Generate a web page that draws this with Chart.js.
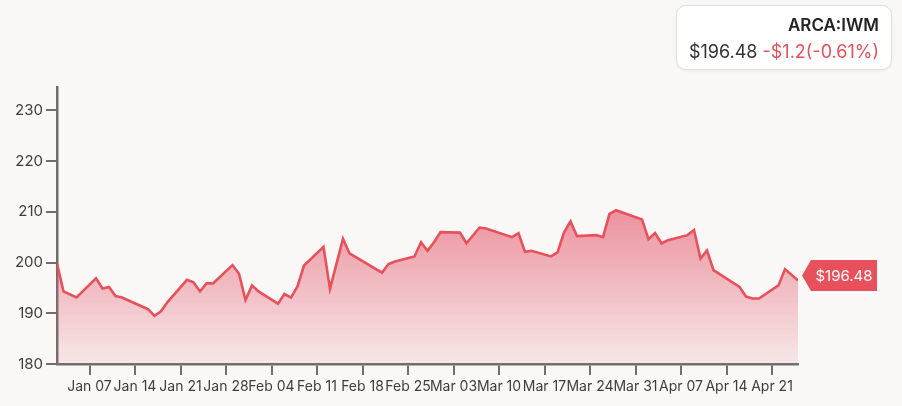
<!DOCTYPE html>
<html>
<head>
<meta charset="utf-8">
<title>ARCA:IWM</title>
<script src="https://cdn.jsdelivr.net/npm/chart.js@4.4.1/dist/chart.umd.min.js"></script>
<style>
  body { margin: 0; background: #f9f8f6; font-family: Inter, "Open Sans", sans-serif; }
  #wrap { position: relative; width: 902px; height: 406px; }
  #infoBox {
    position: absolute; left: 676px; top: 5px; width: 216px; height: 65px;
    box-sizing: border-box; background: #fff; border: 1px solid #e2e0dd; border-radius: 10px;
    box-shadow: 0 1px 3px rgba(0,0,0,0.06); text-align: right; padding: 8px 12px 0 0;
  }
  #infoBox .sym { font-size: 17px; font-weight: 600; color: #222; line-height: 23px; }
  #infoBox .px { font-size: 18px; color: #333; line-height: 29px; }
  #infoBox .chg { color: #e8505b; }
</style>
</head>
<body>
<div id="wrap">
  <canvas id="priceChart"></canvas>
  <div id="infoBox">
    <div class="sym">ARCA:IWM</div>
    <div class="px">$196.48 <span class="chg">-$1.2(-0.61%)</span></div>
  </div>
</div>
<script>
// Daily closes
var dates = ["2024-01-02","2024-01-03","2024-01-05","2024-01-08","2024-01-09","2024-01-10","2024-01-11","2024-01-12",
  "2024-01-16","2024-01-17","2024-01-18","2024-01-19","2024-01-22","2024-01-23","2024-01-24","2024-01-25","2024-01-26",
  "2024-01-29","2024-01-30","2024-01-31","2024-02-01","2024-02-02","2024-02-05","2024-02-06","2024-02-07","2024-02-08",
  "2024-02-09","2024-02-12","2024-02-13","2024-02-15","2024-02-16","2024-02-21","2024-02-22","2024-02-23","2024-02-26",
  "2024-02-27","2024-02-28","2024-02-29","2024-03-01","2024-03-04","2024-03-05","2024-03-07","2024-03-08","2024-03-12",
  "2024-03-13","2024-03-14","2024-03-15","2024-03-18","2024-03-19","2024-03-20","2024-03-21","2024-03-22","2024-03-25",
  "2024-03-26","2024-03-27","2024-03-28","2024-04-01","2024-04-02","2024-04-03","2024-04-04","2024-04-05","2024-04-08",
  "2024-04-09","2024-04-10","2024-04-11","2024-04-12","2024-04-16","2024-04-17","2024-04-18","2024-04-19","2024-04-22",
  "2024-04-23","2024-04-25"];
var prices = [199.8,194.3,193.1,196.9,194.9,195.2,193.4,193.1,
  190.8,189.5,190.4,192.2,196.6,196.1,194.3,195.9,195.9,
  199.5,197.8,192.6,195.5,194.3,191.9,193.8,193.1,195.3,
  199.4,203.1,194.8,204.7,201.8,198.0,199.7,200.2,201.2,
  204.0,202.3,204.0,206.0,205.9,203.8,206.9,206.7,205.0,
  205.8,202.1,202.3,201.2,202.0,205.9,208.1,205.2,205.4,
  205.0,209.6,210.3,208.5,204.6,205.8,203.8,204.4,205.4,
  206.4,200.8,202.4,198.5,195.2,193.3,192.9,192.9,195.5,
  198.7,196.48];

// Axis ticks
var tickDates = ["2024-01-07","2024-01-14","2024-01-21","2024-01-28","2024-02-04","2024-02-11","2024-02-18","2024-02-25",
  "2024-03-03","2024-03-10","2024-03-17","2024-03-24","2024-03-31","2024-04-07","2024-04-14","2024-04-21"];
var tickLabels = ["Jan 07","Jan 14","Jan 21","Jan 28","Feb 04","Feb 11","Feb 18","Feb 25",
  "Mar 03","Mar 10","Mar 17","Mar 24","Mar 31","Apr 07","Apr 14","Apr 21"];
var yTicks = [180, 190, 200, 210, 220, 230];

var lineColor = "#e8505b";
var axisColor = "#6e6e6e";

// days since Jan 1 so a linear scale can stand in for a time scale
function dayNum(s) {
  return (Date.parse(s + "T00:00:00Z") - Date.parse("2024-01-01T00:00:00Z")) / 86400000;
}

var points = dates.map(function (d, i) { return { x: dayNum(d), y: prices[i] }; });
var tickDays = tickDates.map(dayNum);

// Red price tag next to the last point
var lastPriceTag = {
  id: 'lastPriceTag',
  afterDatasetsDraw: function (chart) {
    var meta = chart.getDatasetMeta(0);
    var pt = meta.data[meta.data.length - 1];
    var ctx = chart.ctx;
    var cy = pt.y - 5;
    var tip = pt.x + 4;
    ctx.save();
    ctx.fillStyle = lineColor;
    ctx.beginPath();
    ctx.moveTo(tip, cy);
    ctx.lineTo(tip + 9, cy - 15.5);
    ctx.lineTo(tip + 75, cy - 15.5);
    ctx.lineTo(tip + 75, cy + 15.5);
    ctx.lineTo(tip + 9, cy + 15.5);
    ctx.closePath();
    ctx.fill();
    ctx.fillStyle = "#fff";
    ctx.font = "15px Inter, sans-serif";
    ctx.textAlign = "center";
    ctx.textBaseline = "middle";
    ctx.fillText("$" + prices[prices.length - 1].toFixed(2), tip + 42, cy + 1);
    ctx.restore();
  }
};

var chart = new Chart(document.getElementById('priceChart'), {
  type: 'line',
  data: {
    datasets: [{
      data: points,
      borderColor: lineColor,
      borderWidth: 2.6,
      pointRadius: 0,
      tension: 0,
      fill: 'start',
      backgroundColor: function (c) {
        var area = c.chart.chartArea;
        if (!area) return "rgba(232,80,91,0.4)";
        var top = c.chart.scales.y.getPixelForValue(211);
        var g = c.chart.ctx.createLinearGradient(0, top, 0, area.bottom);
        g.addColorStop(0, "rgba(228,88,108,0.65)");
        g.addColorStop(1, "rgba(228,88,108,0.1)");
        return g;
      }
    }]
  },
  options: {
    responsive: true,
    maintainAspectRatio: false,
    animation: false,
    layout: { padding: { top: 87, right: 104, left: 0, bottom: 0 } },
    plugins: { legend: { display: false }, tooltip: { enabled: false } },
    scales: {
      x: {
        type: 'linear',
        min: dayNum(dates[0]),
        max: dayNum(dates[dates.length - 1]),
        afterBuildTicks: function (scale) {
          scale.ticks = tickDays.map(function (v) { return { value: v }; });
        },
        afterFit: function (scale) { scale.height = 42; },
        border: { display: true, color: axisColor, width: 2.5 },
        grid: { drawOnChartArea: false, drawTicks: true, tickLength: 11, color: axisColor, lineWidth: 2 },
        ticks: {
          autoSkip: false, maxRotation: 0, padding: 3, color: "#3d3d3d",
          font: { family: "Inter", size: 14 },
          callback: function (v) { return tickLabels[tickDays.indexOf(v)]; }
        }
      },
      y: {
        min: 180,
        max: 234.6,
        afterBuildTicks: function (scale) {
          scale.ticks = yTicks.map(function (v) { return { value: v }; });
        },
        afterFit: function (scale) { scale.width = 57; },
        border: { display: true, color: axisColor, width: 2.5 },
        grid: { drawOnChartArea: false, drawTicks: true, tickLength: 11, color: axisColor, lineWidth: 2 },
        ticks: { padding: 3, color: "#3d3d3d", font: { family: "Inter", size: 15 } }
      }
    }
  },
  plugins: [lastPriceTag]
});
</script>
</body>
</html>
